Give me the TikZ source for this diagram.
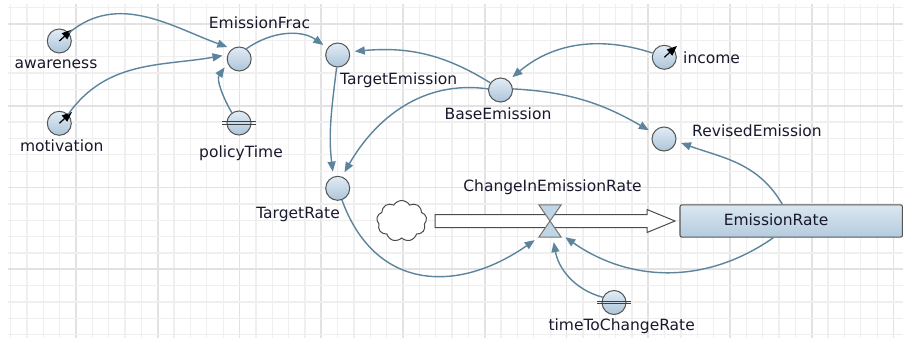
\documentclass[tikz,border=0pt]{standalone}
\usepackage{fontspec}
\setmainfont{DejaVu Sans}
\usetikzlibrary{arrows.meta,shapes.symbols,calc}
\definecolor{conn}{RGB}{92,132,156}
\definecolor{gridminor}{RGB}{239,239,239}
\definecolor{gridmajor}{RGB}{226,226,226}
\definecolor{txt}{RGB}{25,25,45}
\definecolor{bordergray}{RGB}{85,85,85}
\definecolor{ctop}{RGB}{226,236,245}
\definecolor{cbot}{RGB}{172,197,217}
\definecolor{stop}{RGB}{218,231,240}
\definecolor{sbot}{RGB}{180,203,221}
\definecolor{vfill}{RGB}{192,213,229}
\tikzset{
  minorline/.style={draw=gridminor, line width=1.3pt},
  majorline/.style={draw=gridmajor, line width=1.7pt},
  var/.style={circle, inner sep=0pt, minimum size=24pt, draw=bordergray, line width=1pt, top color=ctop, bottom color=cbot},
  lbl/.style={inner sep=0pt, text=txt, font=\fontsize{15.5}{18}\selectfont},
  link/.style={draw=conn, line width=1.4pt, -{Triangle[length=10pt,width=8pt]}, shorten >=5pt},
  needle/.style={draw=black, line width=1.2pt, -{Triangle[length=10pt,width=8pt]}},
  dbl/.style={draw=black!75, line width=0.9pt},
  stockbox/.style={rectangle, rounded corners=2pt, inner sep=0pt, draw=bordergray, line width=1.1pt, top color=stop, bottom color=sbot},
  pipe/.style={draw=black!70, line width=1pt, fill=white},
  valvetri/.style={draw=black!55, line width=1pt, fill=vfill},
  cloudshape/.style={cloud, cloud puffs=9, cloud puff arc=120, aspect=1.2, inner sep=0pt, minimum width=50pt, minimum height=41pt, draw=black!70, line width=1pt, fill=white}
}
\begin{document}
\begin{tikzpicture}[x=1pt,y=-1pt]
\useasboundingbox (0,0) rectangle (903,338);
\fill[white] (0,0) rectangle (903,338);
% grid
\foreach \k in {0,...,54} {
  \pgfmathsetmacro\xx{10.6+\k*16.35}
  \pgfmathtruncatemacro\m{mod(\k,5)}
  \ifnum\m=4 \draw[majorline] (\xx,4) -- (\xx,338); \else \draw[minorline] (\xx,4) -- (\xx,338); \fi
}
\foreach \k in {0,...,20} {
  \pgfmathsetmacro\yy{7.65+\k*16.35}
  \pgfmathtruncatemacro\m{mod(\k,5)}
  \ifnum\m=1 \draw[majorline] (8,\yy) -- (903,\yy); \else \draw[minorline] (8,\yy) -- (903,\yy); \fi
}

% flow pipe
\draw[pipe] (435,214.5) -- (647,214.5) -- (647,209.5) -- (675,221) -- (647,232.5) -- (647,227.5) -- (435,227.5) -- cycle;
\node[cloudshape] (cloud) at (401.7,221) {};
\node[inner sep=0pt, minimum width=22pt, minimum height=32pt] (valve) at (550,221) {};
\draw[valvetri] (valve.north west) -- (valve.north east) -- (valve.center) -- cycle;
\draw[valvetri] (valve.south west) -- (valve.south east) -- (valve.center) -- cycle;

% nodes
\node[var] (aw) at (59.3,41) {};
\node[var] (mo) at (59.3,123.3) {};
\node[var] (ef) at (239.2,59) {};
\node[var] (pt) at (239,123) {};
\node[var] (te) at (337.7,55) {};
\node[var] (be) at (500.5,90) {};
\node[var] (inc) at (664.3,57.3) {};
\node[var] (re) at (664,139) {};
\node[var] (tr) at (337.7,188.3) {};
\node[var] (tc) at (614,302.5) {};
\node[stockbox, minimum width=222.5pt, minimum height=32.3pt] (er) at (791.25,221) {};

% parameter needles and constant bars
\draw[needle] (aw.center) -- ++(42:17pt);
\draw[needle] (mo.center) -- ++(42:17pt);
\draw[needle] (inc.center) -- ++(42:17pt);
\draw[dbl] ($(pt.center)+(-17,-1.4)$) -- ($(pt.center)+(17,-1.4)$);
\draw[dbl] ($(pt.center)+(-17,1.4)$) -- ($(pt.center)+(17,1.4)$);
\draw[dbl] ($(tc.center)+(-17,-1.4)$) -- ($(tc.center)+(17,-1.4)$);
\draw[dbl] ($(tc.center)+(-17,1.4)$) -- ($(tc.center)+(17,1.4)$);

% labels
\node[lbl, anchor=base] (awL) at (56,68.3) {awareness};
\node[lbl, anchor=base] (moL) at (61.7,151.5) {motivation};
\node[lbl, anchor=base] (efL) at (259.5,28.3) {EmissionFrac};
\node[lbl, anchor=base] (ptL) at (241,157.8) {policyTime};
\node[lbl, anchor=base] (teL) at (398.7,84.6) {TargetEmission};
\node[lbl, anchor=base] (beL) at (498,119) {BaseEmission};
\node[lbl, anchor=base west] (incL) at (683,63) {income};
\node[lbl, anchor=base west] (reL) at (692,136.5) {RevisedEmission};
\node[lbl, anchor=base east] (trL) at (340,218) {TargetRate};
\node[lbl, anchor=base] (vL) at (552.5,191.8) {ChangeInEmissionRate};
\node[lbl, anchor=base] (erL) at (776,225) {EmissionRate};
\node[lbl, anchor=base east] (tcL) at (695,330.5) {timeToChangeRate};

% connectors
\coordinate (erb) at ($(er.south west)!0.42!(er.south east)$);
\coordinate (ert) at ($(er.north west)!0.46!(er.north east)$);
\draw[link] (aw.40) to[out=40,in=160] (ef.125);
\draw[link] (mo.45) to[out=55,in=190] (ef.160);
\draw[link] (pt.125) to[out=120,in=235] (ef.200);
\draw[link] (ef.55) to[out=35,in=145] (te.145);
\draw[link] (be.145) to[out=148,in=5] (te.15);
\draw[link] (inc.160) to[out=162,in=40] (be.50);
\draw[link] (be.5) to[out=-3,in=150] (re.150);
\draw[link] (be.175) to[out=172,in=60] (tr.70);
\draw[link] (te.-95) to[out=-97,in=97] (tr.110);
\draw[link] (tr.-70) to[out=-70,in=215,looseness=1.25] (valve.south west);
\draw[link] (tc.155) to[out=165,in=-80] (valve.-80);
\draw[link] (erb) to[out=215,in=-35] (valve.-50);
\draw[link] (ert) to[out=120,in=-20] (re.-10);
\end{tikzpicture}
\end{document}
